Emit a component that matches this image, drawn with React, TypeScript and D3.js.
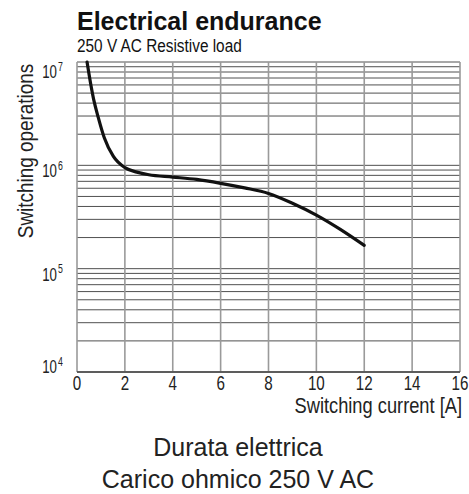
import React from 'react';
import * as d3 from 'd3';

// values
const current = [0.42, 0.58, 0.71, 0.89, 1.14, 1.52, 2.0, 2.5, 3.0, 4.0, 5.0, 6.0, 7.0, 8.0, 9.0, 10.0, 11.0, 12.0];
const operations = [1e7, 6.0e6, 4.2e6, 2.9e6, 1.85e6, 1.22e6, 0.95e6, 0.86e6, 0.81e6, 0.77e6, 0.73e6, 0.67e6, 0.605e6, 0.535e6, 0.43e6, 0.33e6, 0.24e6, 0.168e6];

const xTicks = [0, 2, 4, 6, 8, 10, 12, 14, 16];
const yDecades = [4, 5, 6, 7];

const title = 'Electrical endurance';
const subtitle = '250 V AC Resistive load';
const xLabel = 'Switching current [A]';
const yLabel = 'Switching operations';
const caption = ['Durata elettrica', 'Carico ohmico 250 V AC'];

const sans = '"Liberation Sans", Arial, sans-serif';
// no condensed face installed, so narrow the glyphs by hand
const tickSqueeze = 0.76;
const labelSqueeze = 0.85;

export default function App() {
  const left = 77, right = 460, top = 62, bottom = 372;

  const x = d3.scaleLinear().domain([0, 16]).range([left, right]);
  const y = d3.scaleLog().domain([1e4, 1e7]).range([bottom, top]);

  // minor grid lines for each decade
  const hLines: number[] = [];
  yDecades.slice(0, -1).forEach(k => {
    for (let m = 1; m < 10; m++) hLines.push(m * Math.pow(10, k));
  });
  hLines.push(1e7);

  const line = d3.line<number>()
    .x((d, i) => x(current[i]))
    .y(d => y(d))
    .curve(d3.curveMonotoneX);

  return (
    <svg width={469} height={494} style={{ position: 'absolute', left: 0, top: 0, background: '#fff' }}>
      <text x={left} y={30} fontFamily={sans} fontWeight="bold" fontSize={25} fill="#111">{title}</text>
      <text transform={`translate(${left},52) scale(0.83,1)`} fontFamily={sans} fontSize={18.5} fill="#111">{subtitle}</text>

      {hLines.map((v, i) => (
        <line key={'h' + i} x1={left} x2={right} y1={y(v)} y2={y(v)} stroke="#505050" strokeWidth={1} />
      ))}
      {xTicks.map(t => (
        <line key={'v' + t} x1={x(t)} x2={x(t)} y1={top} y2={bottom} stroke="#9a9a9a" strokeWidth={1.6} />
      ))}
      <line x1={left} x2={right} y1={bottom} y2={bottom} stroke="#444" strokeWidth={1.5} />

      <path d={line(operations) || ''} fill="none" stroke="#111" strokeWidth={3.2} strokeLinecap="round" />

      {xTicks.map(t => (
        <text key={'xt' + t} transform={`translate(${x(t)},389.5) scale(${tickSqueeze},1)`} textAnchor="middle"
          fontFamily={sans} fontSize={20} fill="#222">{t}</text>
      ))}
      <text transform={`translate(462,413) scale(${labelSqueeze},1)`} textAnchor="end"
        fontFamily={sans} fontSize={21.5} fill="#222">{xLabel}</text>

      {yDecades.map(k => {
        const yy = Math.min(Math.max(y(Math.pow(10, k)) + 12, top + 16), bottom + 1);
        return (
          <g key={'yt' + k} transform={`translate(57,${yy}) scale(0.7,1)`}>
            <text textAnchor="end" fontFamily={sans} fontSize={19} fill="#222">10</text>
            <text x={1.5} y={-7.5} fontFamily={sans} fontSize={12.5} fill="#222">{k}</text>
          </g>
        );
      })}
      <text transform={`translate(32.5,151) rotate(-90) scale(0.86,1)`} textAnchor="middle"
        fontFamily={sans} fontSize={22} fill="#222">{yLabel}</text>

      <text x={238} y={456} textAnchor="middle" fontFamily={sans} fontSize={25} fill="#222">{caption[0]}</text>
      <text x={238} y={488} textAnchor="middle" fontFamily={sans} fontSize={25} fill="#222">{caption[1]}</text>
    </svg>
  );
}
